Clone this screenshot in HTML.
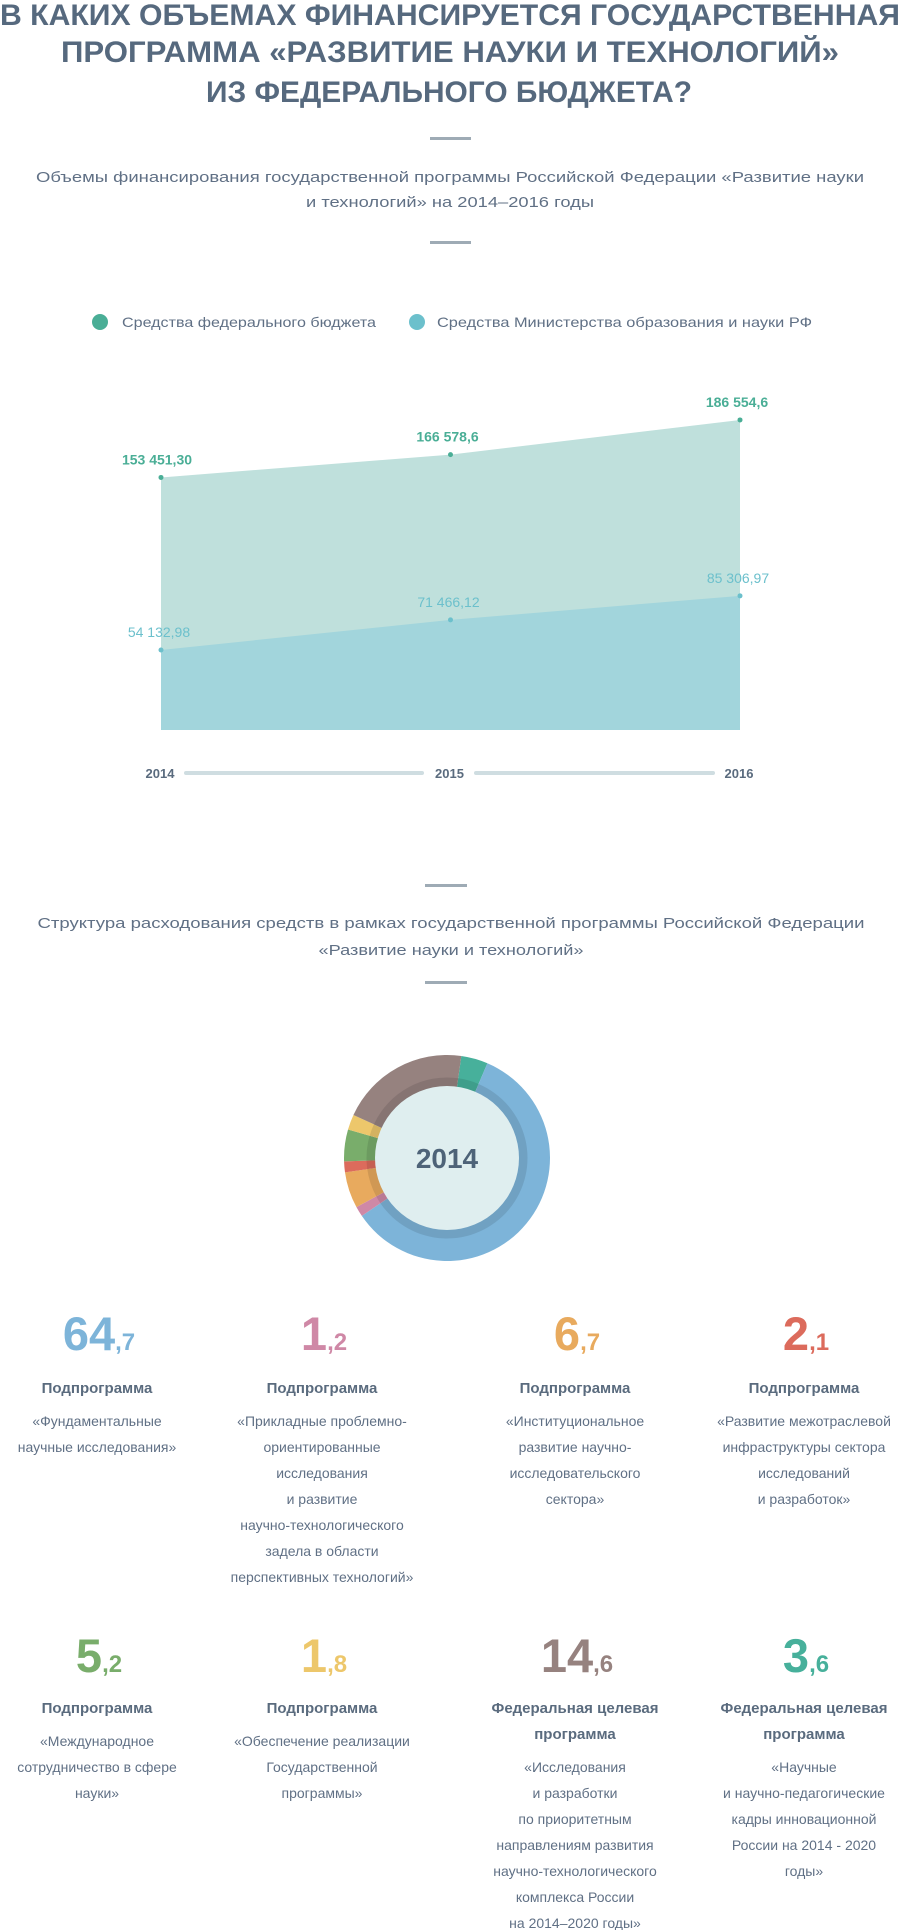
<!DOCTYPE html>
<html><head><meta charset="utf-8">
<style>
html,body{margin:0;padding:0;background:#fff;}
svg{display:block;}
text{font-family:"Liberation Sans","Noto Sans CJK SC",sans-serif;}
</style></head>
<body>
<svg id="page" width="901" height="1930" viewBox="0 0 901 1930" xmlns="http://www.w3.org/2000/svg">
<g fill="#56697e" font-weight="bold" font-size="30" text-anchor="middle">
<text x="450" y="25" textLength="900" lengthAdjust="spacingAndGlyphs">В КАКИХ ОБЪЕМАХ ФИНАНСИРУЕТСЯ ГОСУДАРСТВЕННАЯ</text>
<text x="450" y="62" textLength="778" lengthAdjust="spacingAndGlyphs">ПРОГРАММА «РАЗВИТИЕ НАУКИ И ТЕХНОЛОГИЙ»</text>
<text x="449" y="102" textLength="486" lengthAdjust="spacingAndGlyphs">ИЗ ФЕДЕРАЛЬНОГО БЮДЖЕТА?</text>
</g>
<rect x="430" y="137" width="41" height="3" fill="#9eabb5"/>
<g fill="#607085" font-size="15" text-anchor="middle">
<text x="450" y="182" textLength="828" lengthAdjust="spacingAndGlyphs">Объемы финансирования государственной программы Российской Федерации «Развитие науки</text>
<text x="450" y="207" textLength="288" lengthAdjust="spacingAndGlyphs">и технологий» на 2014–2016 годы</text>
</g>
<rect x="430" y="241" width="41" height="3" fill="#9eabb5"/>
<g font-size="14" fill="#607085">
<g>
<circle cx="100" cy="322" r="8" fill="#4aae96"/>
<text x="122" y="327" textLength="254" lengthAdjust="spacingAndGlyphs">Средства федерального бюджета</text></g>
<g>
<circle cx="417" cy="322" r="8" fill="#6cc0cc"/>
<text x="437" y="327" textLength="375" lengthAdjust="spacingAndGlyphs">Средства Министерства образования и науки РФ</text></g>
</g>
<g id="area-chart"></g>
<rect x="425" y="884" width="42" height="3" fill="#9eabb5"/>
<g fill="#607085" font-size="15" text-anchor="middle">
<text x="451" y="928" textLength="827" lengthAdjust="spacingAndGlyphs">Структура расходования средств в рамках государственной программы Российской Федерации</text>
<text x="451" y="955" textLength="265" lengthAdjust="spacingAndGlyphs">«Развитие науки и технологий»</text>
</g>
<rect x="425" y="981" width="42" height="3" fill="#9eabb5"/>
<g id="donut"></g>
<g id="legend-grid"></g>
</svg>
<script>
const years = ["2014","2015","2016"];
const federal = [153451.30, 166578.6, 186554.6];
const ministry = [54132.98, 71466.12, 85306.97];
const federalLabels = ["153 451,30","166 578,6","186 554,6"];
const ministryLabels = ["54 132,98","71 466,12","85 306,97"];

// donut slices in drawing order (clockwise), as displayed in the picture (percent of ring)
const sliceShares = [4.2, 59.2, 1.6, 5.7, 1.7, 5.0, 2.4, 20.4];
const shareColors = ["#47b09b","#7db4d9","#cf88a6","#e8aa5e","#dc6b5c","#79ad6b","#edc76b","#96827f"];

const NS = "http://www.w3.org/2000/svg";
function mk(tag, attrs, parent){const e=document.createElementNS(NS,tag);for(const k in attrs)e.setAttribute(k,attrs[k]);parent.appendChild(e);return e;}

// area chart
const chart = document.getElementById('area-chart');
const xS = i => 161 + i*289.5;
const yS = v => 744 - v*0.001737;
const base = 730;
function areaPath(vals){let d='M'+xS(0)+','+base;vals.forEach((v,i)=>{d+=' L'+xS(i)+','+yS(v);});d+=' L'+xS(vals.length-1)+','+base+' Z';return d;}
const a1 = mk('path',{d:areaPath(federal),fill:'#bfe0dc'},chart);


const a2 = mk('path',{d:areaPath(ministry),fill:'#a2d5dc'},chart);


federal.forEach((v,i)=>{
  const c=mk('circle',{cx:xS(i),cy:yS(v),r:2.5,fill:'#4aae96'},chart);
  
  
  const t=mk('text',{x:xS(i)-3+(i===0?-1:0),y:yS(v)-13,'text-anchor':'middle','font-size':'14','font-weight':'bold',fill:'#4aae96'},chart);
  t.textContent=federalLabels[i];
  
  
});
ministry.forEach((v,i)=>{
  const c=mk('circle',{cx:xS(i),cy:yS(v),r:2.5,fill:'#6cc0cc'},chart);
  
  
  const t=mk('text',{x:xS(i)-2,y:yS(v)-13,'text-anchor':'middle','font-size':'14',fill:'#6cc0cc'},chart);
  t.textContent=ministryLabels[i];
  
  
});
[[184,424],[474,715]].forEach(s=>{
  const r=mk('rect',{x:s[0],y:771,width:s[1]-s[0],height:4,rx:2,fill:'#cfdde1'},chart);
  
  
});
years.forEach((y,i)=>{
  const t=mk('text',{x:xS(i)-1,y:778,'text-anchor':'middle','font-size':'13','font-weight':'bold',fill:'#5a6b7e'},chart);
  t.textContent=y;
  
  
});

// donut
const donut=document.getElementById('donut');
const cx=447, cy=1158, R=103, r1=80, r0=72;
const total=sliceShares.reduce((a,b)=>a+b,0);
let ang=8;
function pt(a,r){const rad=(a-90)*Math.PI/180;return [cx+r*Math.cos(rad),cy+r*Math.sin(rad)];}
function arc(a0,a1,ro,ri){const l=(a1-a0)>180?1:0;const p0=pt(a0,ro),p1=pt(a1,ro),p2=pt(a1,ri),p3=pt(a0,ri);
 return `M${p0} A${ro},${ro} 0 ${l} 1 ${p1} L${p2} A${ri},${ri} 0 ${l} 0 ${p3} Z`;}
sliceShares.forEach((s,i)=>{
  const a0=ang,a1=ang+s/total*360;
  const seg=mk('path',{d:arc(a0,a1,R,r1),fill:shareColors[i]},donut);
  
  
  const band=mk('path',{d:arc(a0,a1,r1+0.5,r0-1),fill:shareColors[i]},donut);
  
  
  const sh=mk('path',{d:arc(a0,a1,r1+0.5,r0-1),fill:'#000','fill-opacity':'0.1'},donut);
  
  
  ang=a1;
});
const ic=mk('circle',{cx:cx,cy:cy,r:r0,fill:'#dfeeef'},donut);


const yt=mk('text',{x:cx,y:cy+10,'text-anchor':'middle','font-size':'28','font-weight':'bold',fill:'#4e6378'},donut);
yt.textContent='2014';



// legend grid
const whole=["64","1","6","2","5","1","14","3"];
const frac=["7","2","7","1","2","8","6","6"];
const order=[1,2,3,4,5,6,7,0];
const heads=[["Подпрограмма"],["Подпрограмма"],["Подпрограмма"],["Подпрограмма"],["Подпрограмма"],["Подпрограмма"],["Федеральная целевая","программа"],["Федеральная целевая","программа"]];
const descs=[
 ["«Фундаментальные","научные исследования»"],
 ["«Прикладные проблемно-","ориентированные","исследования","и развитие","научно-технологического","задела в области","перспективных технологий»"],
 ["«Институциональное","развитие научно-","исследовательского","сектора»"],
 ["«Развитие межотраслевой","инфраструктуры сектора","исследований","и разработок»"],
 ["«Международное","сотрудничество в сфере","науки»"],
 ["«Обеспечение реализации","Государственной","программы»"],
 ["«Исследования","и разработки","по приоритетным","направлениям развития","научно-технологического","комплекса России","на 2014–2020 годы»"],
 ["«Научные","и научно-педагогические","кадры инновационной","России на 2014 - 2020","годы»"]];
const colX=[97,322,575,804];
const grid=document.getElementById('legend-grid');
for(let k=0;k<8;k++){
  const row=Math.floor(k/4), col=k%4, x=colX[col];
  const numY=row?1672:1350, headY=row?1713:1393;
  const g=mk('g',{},grid);
  
  
  const n=mk('text',{x:x+2,y:numY,'text-anchor':'middle','font-weight':'bold',fill:shareColors[order[k]]},g);
  const s1=mk('tspan',{'font-size':'47'},n); s1.textContent=whole[k];
  const s2=mk('tspan',{'font-size':'24'},n); s2.textContent=','+frac[k];
  
  
  heads[k].forEach((h,j)=>{
    const t=mk('text',{x:x,y:headY+j*26,'text-anchor':'middle','font-size':'15','font-weight':'bold',fill:'#5a6b7e'},g);
    t.textContent=h;
    
    
  });
  const dY=headY+heads[k].length*26+7;
  descs[k].forEach((d,j)=>{
    const t=mk('text',{x:x,y:dY+j*26,'text-anchor':'middle','font-size':'14',fill:'#607085'},g);
    t.textContent=d;
    
    
  });
}
</script>
</body></html>
